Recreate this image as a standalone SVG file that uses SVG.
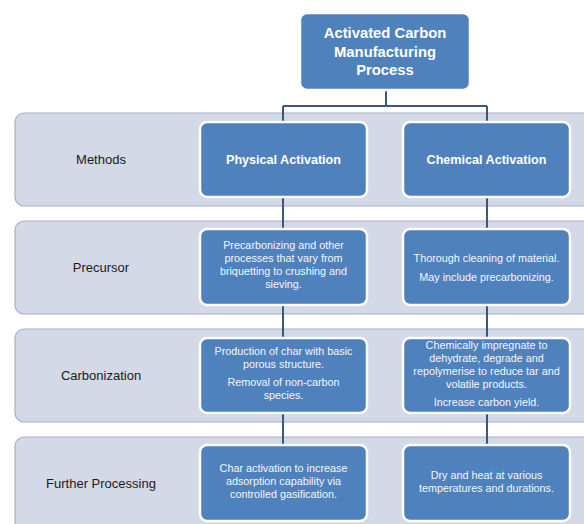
<svg xmlns="http://www.w3.org/2000/svg" width="584" height="524" viewBox="0 0 584 524">
<style>
.band{fill:#d3d9e6;stroke:#a7afbf;stroke-width:1.2}
.box{fill:#4f81bd;stroke:#ffffff;stroke-width:2.5}
.lbl{font-family:"Liberation Sans",Arial,sans-serif;font-size:13px;fill:#1a1a1a;text-anchor:middle}
.ttl{font-family:"Liberation Sans",Arial,sans-serif;font-size:12.6px;font-weight:bold;fill:#ffffff;text-anchor:middle}
.top{font-family:"Liberation Sans",Arial,sans-serif;font-size:14.8px;font-weight:bold;fill:#ffffff;text-anchor:middle}
.txt{font-family:"Liberation Sans",Arial,sans-serif;font-size:10.8px;fill:#f4f7fb;text-anchor:middle}
.con{stroke:#3b5878;stroke-width:2;fill:none}
</style>
<rect width="584" height="524" fill="#ffffff"/>
<g id="bands">
<rect class="band" x="15" y="113" width="580" height="93" rx="9"/>
<rect class="band" x="15" y="221" width="580" height="93" rx="9"/>
<rect class="band" x="15" y="329" width="580" height="93" rx="9"/>
<rect class="band" x="15" y="437" width="580" height="100" rx="9"/>
<text class="lbl" x="101" y="164">Methods</text>
<text class="lbl" x="101" y="272">Precursor</text>
<text class="lbl" x="101" y="380">Carbonization</text>
<text class="lbl" x="101" y="488">Further Processing</text>
</g>
<g id="connectors">
<path class="con" d="M386 90V106M283 106H487M283 106V122M487 106V122"/>
<path class="con" d="M283 197V229M283 305V338M283 413V445"/>
<path class="con" d="M487 197V229M487 305V338M487 413V445"/>
</g>
<g id="root">
<rect class="box" x="300" y="13" width="170" height="77" rx="7"/>
<text class="top" x="385" y="38">Activated Carbon</text>
<text class="top" x="385" y="56.5">Manufacturing</text>
<text class="top" x="385" y="75">Process</text>
</g>
<g id="physical">
<rect class="box" x="200" y="122" width="167" height="75" rx="7"/>
<text class="ttl" x="283.5" y="164">Physical Activation</text>
</g>
<g id="chemical">
<rect class="box" x="403" y="122" width="167" height="75" rx="7"/>
<text class="ttl" x="486.5" y="164">Chemical Activation</text>
</g>
<g id="phys-precursor">
<rect class="box" x="200" y="229" width="167" height="76" rx="7"/>
<text class="txt" x="283.5" y="249">Precarbonizing and other</text>
<text class="txt" x="283.5" y="262">processes that vary from</text>
<text class="txt" x="283.5" y="275">briquetting to crushing and</text>
<text class="txt" x="283.5" y="288">sieving.</text>
</g>
<g id="chem-precursor">
<rect class="box" x="403" y="229" width="167" height="76" rx="7"/>
<text class="txt" x="486.5" y="262">Thorough cleaning of material.</text>
<text class="txt" x="486.5" y="281">May include precarbonizing.</text>
</g>
<g id="phys-carbonization">
<rect class="box" x="200" y="338" width="167" height="75" rx="7"/>
<text class="txt" x="283.5" y="355">Production of char with basic</text>
<text class="txt" x="283.5" y="368">porous structure.</text>
<text class="txt" x="283.5" y="386">Removal of non-carbon</text>
<text class="txt" x="283.5" y="399">species.</text>
</g>
<g id="chem-carbonization">
<rect class="box" x="403" y="338" width="167" height="75" rx="7"/>
<text class="txt" x="486.5" y="349">Chemically impregnate to</text>
<text class="txt" x="486.5" y="362">dehydrate, degrade and</text>
<text class="txt" x="486.5" y="375">repolymerise to reduce tar and</text>
<text class="txt" x="486.5" y="388">volatile products.</text>
<text class="txt" x="486.5" y="406">Increase carbon yield.</text>
</g>
<g id="phys-further">
<rect class="box" x="200" y="445" width="167" height="76" rx="7"/>
<text class="txt" x="283.5" y="472">Char activation to increase</text>
<text class="txt" x="283.5" y="485">adsorption capability via</text>
<text class="txt" x="283.5" y="498">controlled gasification.</text>
</g>
<g id="chem-further">
<rect class="box" x="403" y="445" width="167" height="76" rx="7"/>
<text class="txt" x="486.5" y="479">Dry and heat at various</text>
<text class="txt" x="486.5" y="492">temperatures and durations.</text>
</g>
</svg>
